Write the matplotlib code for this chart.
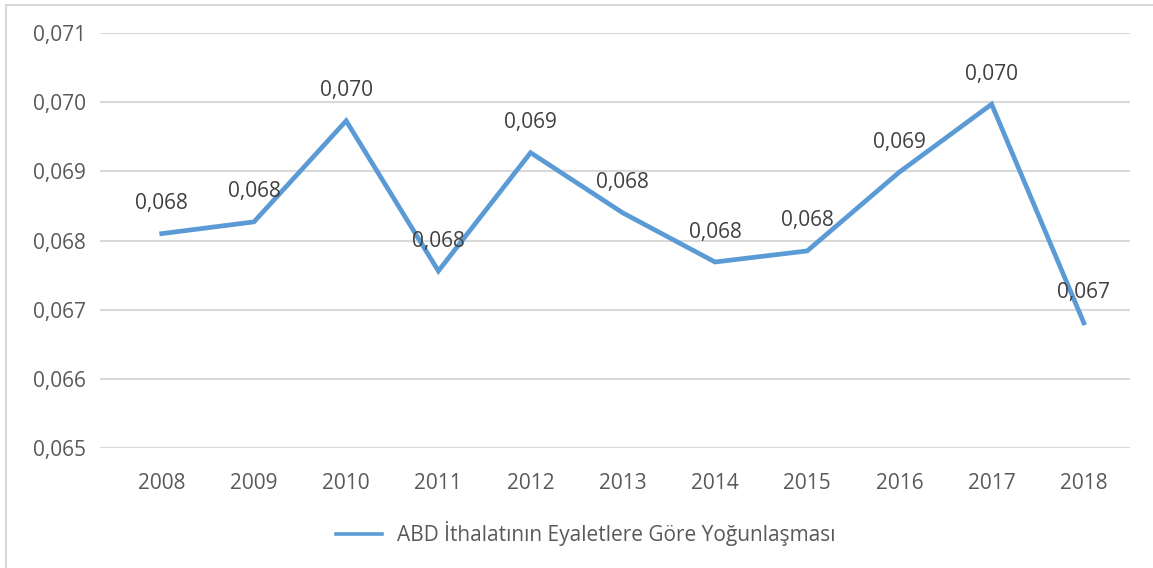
import numpy as np
import matplotlib.pyplot as plt
from matplotlib.patches import Rectangle

# Veriler
yillar = ['2008', '2009', '2010', '2011', '2012', '2013', '2014', '2015', '2016', '2017', '2018']
yogunlasma = [0.06810, 0.06827, 0.06973, 0.06756, 0.06927, 0.06840, 0.06769, 0.06785, 0.06899, 0.06997, 0.06681]
y_ticks = [0.065, 0.066, 0.067, 0.068, 0.069, 0.070, 0.071]
seri_adi = 'ABD İthalatının Eyaletlere Göre Yoğunlaşması'

plt.rcParams['font.family'] = ['Open Sans', 'DejaVu Sans']

fig = plt.figure(figsize=(11.53, 5.68), dpi=100)
ax = fig.add_axes([0.0867, 0.211, 0.8933, 0.731])

# Dış çerçeve
fig.patches.append(Rectangle((0.0052, -0.05), 1.2, 1.041, transform=fig.transFigure,
                             fill=False, edgecolor='#d9d9d9', linewidth=1.5))

x = np.arange(len(yillar))
ax.plot(x, yogunlasma, color='#5B9BD5', linewidth=3.4, solid_joinstyle='miter',
        label=seri_adi)

# Etiketler
for xi, yi in zip(x, yogunlasma):
    ax.annotate(f'{yi:.3f}'.replace('.', ','), (xi, yi), xytext=(0, 14),
                textcoords='offset points', ha='center', va='bottom',
                fontsize=15, color='#404040')

ax.set_xlim(-0.67, 10.5)
ax.set_ylim(0.065, 0.071)
ax.set_yticks(y_ticks)
ax.set_yticklabels([f'{t:.3f}'.replace('.', ',') for t in y_ticks])
ax.set_xticks(x)
ax.set_xticklabels(yillar)
ax.tick_params(axis='both', length=0, labelsize=15, labelcolor='#595959')
ax.tick_params(axis='y', pad=10)
ax.tick_params(axis='x', pad=18)
ax.grid(axis='y', color='#d9d9d9', linewidth=1.5)
ax.set_axisbelow(True)
for s in ax.spines.values():
    s.set_visible(False)

leg = fig.legend(loc='center', bbox_to_anchor=(0.508, 0.06), frameon=False,
                 fontsize=15, handlelength=2.2, handletextpad=0.7)
for t in leg.get_texts():
    t.set_color('#595959')
for h in leg.get_lines():
    h.set_linewidth(2.6)

fig.savefig('out.png', dpi=100)
